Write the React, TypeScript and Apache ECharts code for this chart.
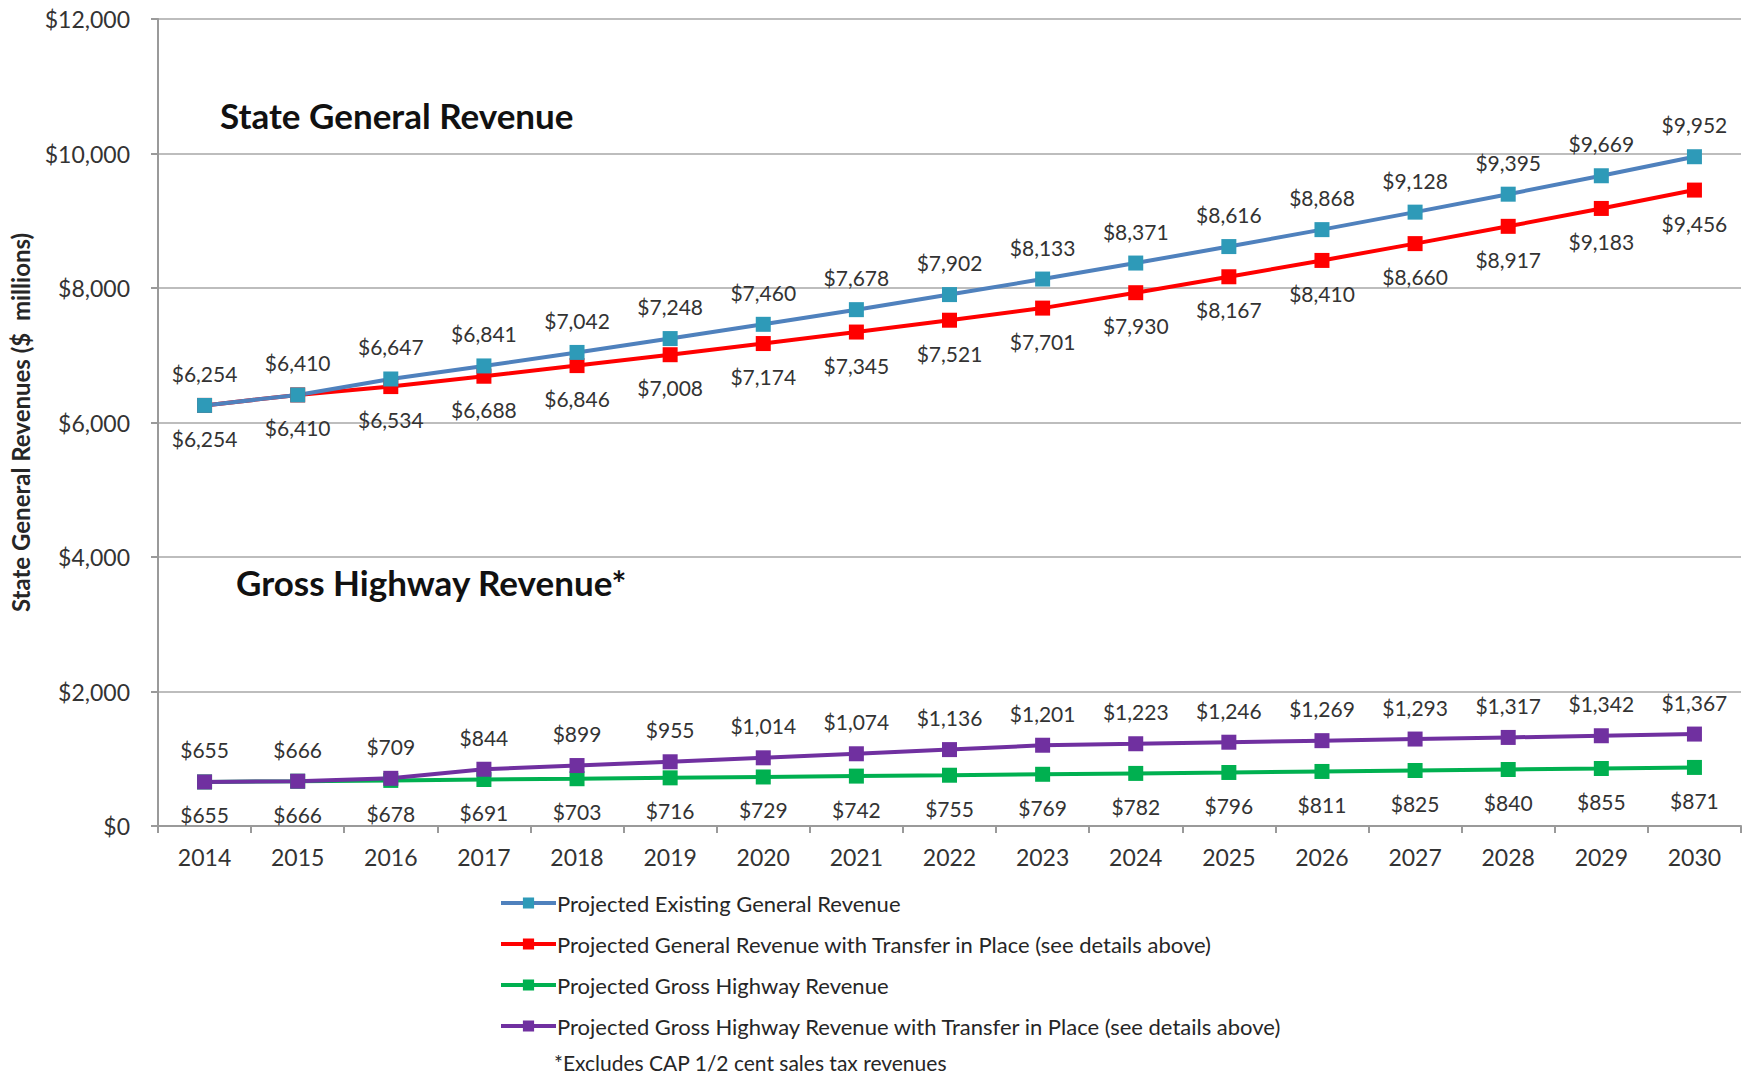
import React, { useEffect, useRef } from "react";
import * as echarts from "echarts";

const years = ["2014","2015","2016","2017","2018","2019","2020","2021","2022","2023","2024","2025","2026","2027","2028","2029","2030"];
const existingGeneral = [6254,6410,6647,6841,7042,7248,7460,7678,7902,8133,8371,8616,8868,9128,9395,9669,9952];
const generalWithTransfer = [6254,6410,6534,6688,6846,7008,7174,7345,7521,7701,7930,8167,8410,8660,8917,9183,9456];
const grossHighway = [655,666,678,691,703,716,729,742,755,769,782,796,811,825,840,855,871];
const highwayWithTransfer = [655,666,709,844,899,955,1014,1074,1136,1201,1223,1246,1269,1293,1317,1342,1367];
const seriesNames = [
  "Projected Existing General Revenue",
  "Projected General Revenue with Transfer in Place (see details above)",
  "Projected Gross Highway Revenue",
  "Projected Gross Highway Revenue with Transfer in Place (see details above)",
];
const yMin = 0, yMax = 12000, yStep = 2000;

const FONT = "Lato, 'Open Sans', sans-serif";
const fmt = (v: number) => "$" + v.toLocaleString("en-US");

export default function App() {
  const ref = useRef<HTMLDivElement>(null);
  useEffect(() => {
    document.body.style.margin = "0";
    if (!ref.current) return;
    const chart = echarts.init(ref.current, null, { renderer: "svg" });
    const mk = (name: string, data: number[], lineColor: string, markColor: string, pos: "top" | "bottom") => ({
      name, type: "line", data,
      symbol: "rect", symbolSize: 15,
      lineStyle: { color: lineColor, width: 4 },
      itemStyle: { color: markColor, borderWidth: 0 },
      label: {
        show: true, position: pos, distance: pos === "top" ? 14 : 15,
        formatter: (p: any) => fmt(p.value),
        fontFamily: FONT, fontSize: 21, color: "#333333",
      },
    });
    chart.setOption({
      animation: false,
      backgroundColor: "#ffffff",
      textStyle: { fontFamily: FONT },
      grid: { left: 156, right: 7, top: 19, bottom: 248, containLabel: false },
      xAxis: {
        type: "category", data: years, boundaryGap: true,
        axisLine: { lineStyle: { color: "#9a9a9a", width: 2 } },
        axisTick: { show: true, alignWithLabel: false, length: 7, lineStyle: { color: "#9a9a9a", width: 2 } },
        axisLabel: { fontFamily: FONT, fontSize: 23, color: "#333333", margin: 19 },
      },
      yAxis: {
        type: "value", min: yMin, max: yMax, interval: yStep,
        name: "State General Revenues ($  millions)",
        nameLocation: "middle", nameGap: 126, nameRotate: 90,
        nameTextStyle: { fontFamily: FONT, fontSize: 24, fontWeight: "bold", color: "#262626" },
        axisLine: { show: true, lineStyle: { color: "#9a9a9a", width: 2 } },
        axisTick: { show: true, length: 7, lineStyle: { color: "#9a9a9a", width: 2 } },
        splitLine: { lineStyle: { color: "#bdbdbd", width: 2 } },
        axisLabel: { fontFamily: FONT, fontSize: 23, color: "#333333", margin: 28, formatter: (v: number) => fmt(v) },
      },
      legend: {
        orient: "vertical", left: 494, top: 887, itemGap: 19,
        itemWidth: 55, itemHeight: 14,
        lineStyle: { width: 4 },
        textStyle: { fontFamily: FONT, fontSize: 22, color: "#262626", padding: [0, 0, 0, -4] },
        data: seriesNames,
      },
      graphic: [
        { type: "text", x: 220, y: 115, style: { text: "State General Revenue", fontFamily: FONT, fontSize: 35, fontWeight: "bold", fill: "#111", verticalAlign: "middle" } },
        { type: "text", x: 236, y: 582, style: { text: "Gross Highway Revenue*", fontFamily: FONT, fontSize: 35, fontWeight: "bold", fill: "#111", verticalAlign: "middle" } },
        { type: "text", x: 554, y: 1062, style: { text: "*Excludes CAP 1/2 cent sales tax revenues", fontFamily: FONT, fontSize: 21, fill: "#262626", verticalAlign: "middle" } },
      ],
      series: [
        mk(seriesNames[2], grossHighway, "#00b050", "#00b050", "bottom"),
        mk(seriesNames[3], highwayWithTransfer, "#7030a0", "#7030a0", "top"),
        mk(seriesNames[1], generalWithTransfer, "#ff0000", "#ff0000", "bottom"),
        mk(seriesNames[0], existingGeneral, "#4f81bd", "#2e9ab8", "top"),
      ],
    });
    return () => chart.dispose();
  }, []);
  return <div ref={ref} style={{ width: 1748, height: 1074 }} />;
}
